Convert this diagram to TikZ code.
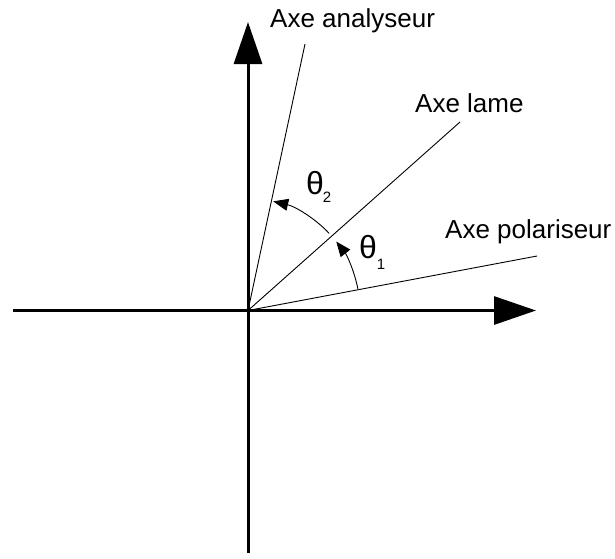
\documentclass[tikz,border=0pt]{standalone}
\usepackage{fontspec}
\setmainfont{Liberation Sans}
\usetikzlibrary{arrows.meta}
\begin{document}
\begin{tikzpicture}[x=1pt,y=-1pt,
  axis/.style={line width=3pt,-{Triangle[length=42pt,width=28pt]}},
  ray/.style={line width=0.9pt},
  angarrow/.style={line width=0.9pt,-{Triangle[length=15pt,width=12pt]}},
  lbl/.style={inner sep=0pt,anchor=base west,font=\fontsize{26}{30}\selectfont},
  sym/.style={inner sep=0pt,font=\fontsize{32}{36}\selectfont},
  sub/.style={inner sep=0pt,font=\fontsize{15}{18}\selectfont}]
\useasboundingbox (0,0) rectangle (615,558);
\coordinate (O) at (248,310.5);
\coordinate (xs) at (13,310.5);
\coordinate (xe) at (536,310.5);
\coordinate (ys) at (248,553);
\coordinate (ye) at (248,22);
\coordinate (pa) at (305,44);
\coordinate (pl) at (460,122);
\coordinate (pp) at (537,256);
\draw[axis] (xs) -- (xe);
\draw[axis] (ys) -- (ye);
\draw[ray] (O) -- (pa);
\draw[ray] (O) -- (pl);
\draw[ray] (O) -- (pp);
\draw[angarrow] (O) ++(-11:112) arc[start angle=-11,end angle=-38,radius=112];
\draw[angarrow] (O) ++(-43.5:112) arc[start angle=-43.5,end angle=-77,radius=112];
\node[lbl] (la) at (270,27) {Axe analyseur};
\node[lbl] (ll) at (415,112) {Axe lame};
\node[lbl] (lp) at (445,238) {Axe polariseur};
\node[sym] (t2) at (315,183) {θ};
\node[sub] (s2) at (327,197) {2};
\node[sym] (t1) at (368,247) {θ};
\node[sub] (s1) at (381,264) {1};
\end{tikzpicture}
\end{document}
